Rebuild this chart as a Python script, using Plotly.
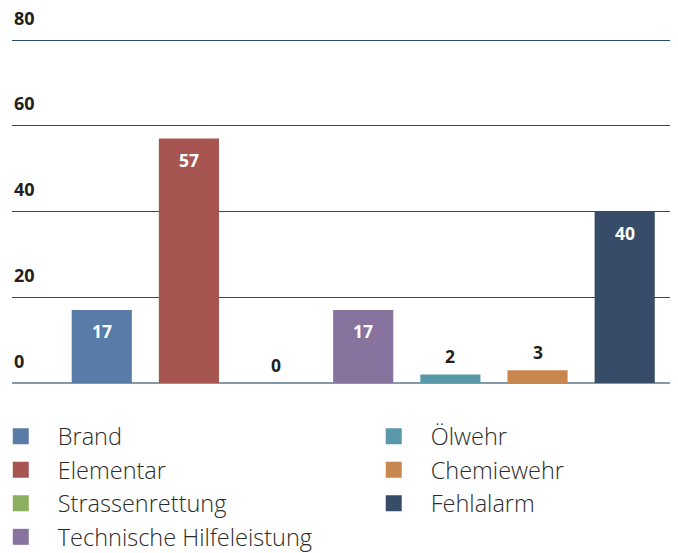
import plotly.graph_objects as go

categories = ["Brand", "Elementar", "Strassenrettung", "Technische Hilfeleistung",
              "Ölwehr", "Chemiewehr", "Fehlalarm"]
values = [17, 57, 0, 17, 2, 3, 40]
colors = ["#587ba8", "#a65550", "#8dae5e", "#87739e", "#5898a8", "#c8874f", "#364c68"]
y_ticks = [0, 20, 40, 60, 80]

W, H = 678, 553
L, R, T, B = 12, 8, 0, 170

fig = go.Figure()
for i, (cat, val, col) in enumerate(zip(categories, values, colors)):
    fig.add_trace(go.Bar(
        x=[cat], y=[val], name=cat,
        marker=dict(color=col, line=dict(width=0)),
        width=0.69, showlegend=False,
        hoverinfo="skip",
    ))
    # legend entry with a larger square swatch
    fig.add_trace(go.Scatter(
        x=[None], y=[None], name=cat, mode="markers",
        marker=dict(symbol="square", size=17, color=col, line=dict(width=0)),
        legend="legend" if i < 4 else "legend2",
        legendgroup=cat, showlegend=True, hoverinfo="skip",
    ))

# value labels
for cat, val in zip(categories, values):
    inside = val >= 10
    fig.add_annotation(
        x=cat, y=val, text=str(val), showarrow=False,
        yanchor="middle", yshift=-21 if inside else 18,
        font=dict(family="Open Sans", size=17.5, weight="bold",
                  color="#ffffff" if inside else "#231f20"),
    )

legend_common = dict(
    font=dict(family="Open Sans", size=23.5, color="#2b2b2b", weight=300),
    bgcolor="rgba(0,0,0,0)", orientation="v", xanchor="left", yanchor="top",
    tracegroupgap=0, itemwidth=64, itemsizing="trace",
)
fig.update_layout(
    width=W, height=H,
    margin=dict(l=L, r=R, t=T, b=B, autoexpand=False),
    paper_bgcolor="white", plot_bgcolor="white",
    barmode="overlay",
    showlegend=True,
    legend=dict(x=-0.0429, y=-0.0820, **legend_common),
    legend2=dict(x=0.5239, y=-0.0820, **legend_common),
    xaxis=dict(type="category", categoryorder="array", categoryarray=categories,
               range=[-1.03, 6.52], showticklabels=False, showgrid=False,
               zeroline=False, showline=False, ticks=""),
    yaxis=dict(range=[0, 89.33], tickvals=y_ticks, ticktext=[str(v) for v in y_ticks],
               ticklabelposition="inside top", ticks="", ticklabelshift=-9,
               ticklabelstandoff=-1, ticklabeloverflow="allow",
               tickfont=dict(family="Open Sans", size=18, weight="bold", color="#231f20"),
               showgrid=True, gridcolor="#2f4a66", gridwidth=1,
               zeroline=True, zerolinecolor="#8399a9", zerolinewidth=2,
               showline=False),
    font=dict(family="Open Sans"),
)

fig.write_html("out.html",
               config={"displayModeBar": False},
               post_script="document.body.style.margin='0';document.body.style.overflow='hidden';")
